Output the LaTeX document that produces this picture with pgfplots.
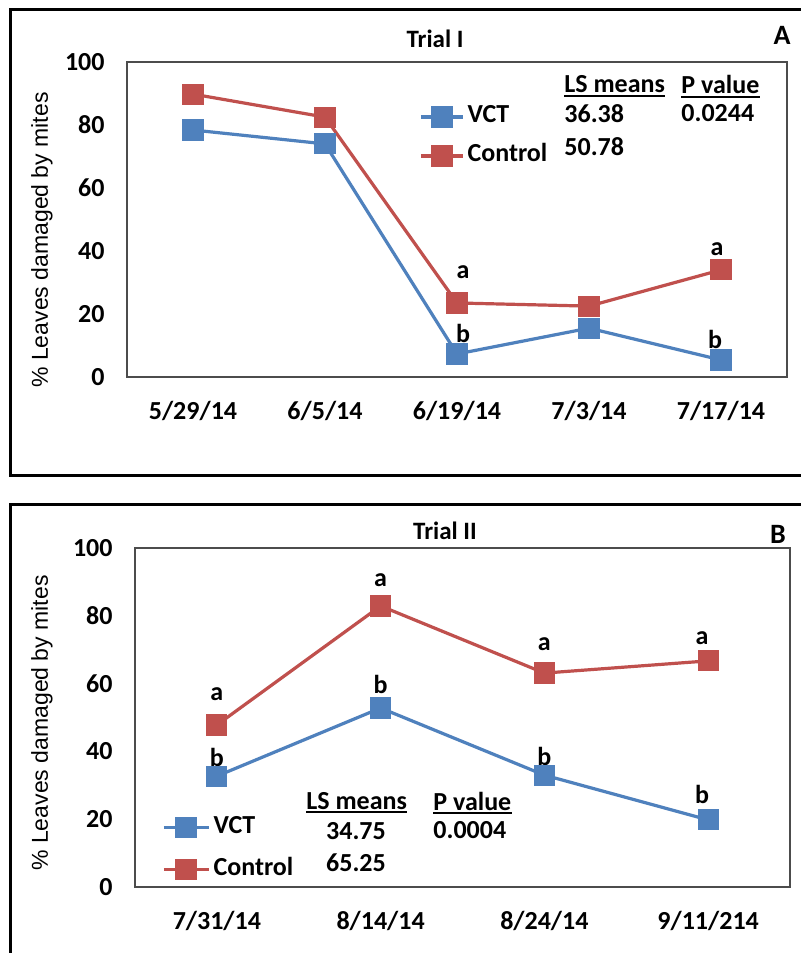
\documentclass[border=0pt]{standalone}
\usepackage{pgfplots}
\pgfplotsset{compat=1.18}
\usepackage{fontspec}
\setmainfont{Carlito}
\newfontfamily\arialf{Liberation Sans}
\definecolor{vblue}{RGB}{79,129,189}
\definecolor{cred}{RGB}{192,80,77}
\newcommand\fs{\fontsize{13}{15}\selectfont\bfseries}
\tikzset{lab/.style={font=\fs, inner sep=0pt}}
\pgfplotsset{
 mystyle/.style={
  scale only axis, anchor=south west,
  xmin=-0.5, ymin=0, ymax=100,
  ytick={0,20,...,100},
  major tick length=0pt,
  axis line style={draw=black!70, line width=1pt},
  /pgf/number format/assume math mode=true,
  ticklabel style={font=\fs},
  yticklabel style={inner sep=0pt, xshift=-11pt},
  xticklabel style={inner sep=0pt, yshift=-12pt},
  legend style={draw=none, fill=none, font=\fs, inner sep=0pt,
    nodes={inner sep=0pt, text height=9pt, text depth=3pt},
    /tikz/every odd column/.append style={column sep=1.5pt}},
  legend cell align=left,
  clip=false,
 },
 vct/.style={color=vblue, line width=1.6pt, mark=square*, mark size=4.5pt, mark options={solid}},
 ctl/.style={color=cred, line width=1.6pt, mark=square*, mark size=4.5pt, mark options={solid}},
}
\begin{document}
\begin{tikzpicture}
\path[use as bounding box, fill=white] (0,0) rectangle (400pt,476.5pt);
% ---------- Panel A ----------
\begin{axis}[mystyle, at={(63.5pt,288pt)}, width=330pt, height=157.5pt,
  xmax=4.5, xtick={0,...,4},
  xticklabels={5/29/14,6/5/14,6/19/14,7/3/14,7/17/14},
  legend image code/.code={\draw[mark repeat=2,mark phase=2] plot coordinates {(0pt,0pt)(10.5pt,0pt)(21pt,0pt)};},
  legend style={at={(0.4424,0.865)}, anchor=north west, row sep=7.5pt}]
\addplot[vct] coordinates {(0,78.4) (1,74.0) (2,7.3) (3,15.5) (4,5.4)};
\addlegendentry{VCT}
\addplot[ctl] coordinates {(0,89.8) (1,82.5) (2,23.5) (3,22.5) (4,34.0)};
\addlegendentry{Control}
\node[lab] at (axis cs:2,23.5) [xshift=3pt, yshift=15.5pt] {a};
\node[lab] at (axis cs:2,7.3) [xshift=3pt, yshift=10.5pt] {b};
\node[lab] at (axis cs:4,34.0) [xshift=-2pt, yshift=10.5pt] {a};
\node[lab] at (axis cs:4,5.4) [xshift=-3pt, yshift=10.5pt] {b};
\end{axis}
% ---------- Panel B ----------
\begin{axis}[mystyle, at={(67.5pt,33pt)}, width=327.5pt, height=169.5pt,
  xmax=3.5, xtick={0,...,3},
  xticklabels={7/31/14,8/14/14,8/24/14,9/11/214},
  legend image code/.code={\draw[mark repeat=2,mark phase=2] plot coordinates {(0pt,0pt)(11pt,0pt)(22.5pt,0pt)};},
  legend style={at={(0.0412,0.211)}, anchor=north west, row sep=9pt}]
\addplot[vct] coordinates {(0,32.7) (1,52.8) (2,33.0) (3,19.8)};
\addlegendentry{VCT}
\addplot[ctl] coordinates {(0,47.8) (1,82.9) (2,63.1) (3,66.7)};
\addlegendentry{Control}
\node[lab] at (axis cs:0,47.8) [yshift=15.5pt] {a};
\node[lab] at (axis cs:0,32.7) [yshift=9.5pt] {b};
\node[lab] at (axis cs:1,82.9) [yshift=13pt] {a};
\node[lab] at (axis cs:1,52.8) [yshift=12pt] {b};
\node[lab] at (axis cs:2,63.1) [yshift=14.5pt] {a};
\node[lab] at (axis cs:2,33.0) [yshift=9.5pt] {b};
\node[lab] at (axis cs:3,66.7) [xshift=-3pt, yshift=11.5pt] {a};
\node[lab] at (axis cs:3,19.8) [xshift=-3pt, yshift=12.5pt] {b};
\end{axis}
% ---------- annotations in pixel coordinates ----------
\begin{scope}[x=0.5pt, y=-0.5pt, yshift=476.5pt]
\draw[line width=1.5pt] (10,10) rectangle (830,476);
\draw[line width=1.5pt] (10,505) rectangle (830,990);
\node[font=\fontsize{12.5}{14}\selectfont\bfseries] at (435,39) {Trial I};
\node[font=\fontsize{14}{16}\selectfont\bfseries] at (782,35) {A};
\node[font=\fontsize{12.5}{14}\selectfont\bfseries] at (445,531) {Trial II};
\node[font=\fontsize{14}{16}\selectfont\bfseries] at (778,534) {B};
\node[font=\arialf\fontsize{11.5}{13}\selectfont, rotate=90] at (42,240) {\% Leaves damaged by mites};
\node[font=\arialf\fontsize{11.5}{13}\selectfont, rotate=90] at (42,723) {\% Leaves damaged by mites};
% A table
\node[lab, anchor=west] (lsa) at (564,84) {LS means};
\draw[line width=1pt] ([yshift=-1.8pt]lsa.base west) -- ([yshift=-1.8pt]lsa.base east);
\node[lab, anchor=west] (pva) at (681,84) {P value};
\draw[line width=1pt] ([yshift=-1.8pt]pva.base west) -- ([yshift=-1.8pt]pva.base east);
\node[lab, anchor=west] at (564,114) {36.38};
\node[lab, anchor=west] at (564,147) {50.78};
\node[lab, anchor=west] at (681,113) {0.0244};
% B table
\node[lab, anchor=west] (lsb) at (306,801) {LS means};
\draw[line width=1pt] ([yshift=-1.5pt]lsb.base west) -- ([yshift=-1.5pt]lsb.base east);
\node[lab, anchor=west] (pvb) at (433,801) {P value};
\draw[line width=1pt] ([yshift=-1.5pt]pvb.base west) -- ([yshift=-1.5pt]pvb.base east);
\node[lab] at (356,831) {34.75};
\node[lab] at (356,863) {65.25};
\node[lab, anchor=west] at (433,830) {0.0004};
\end{scope}
\end{tikzpicture}
\end{document}
